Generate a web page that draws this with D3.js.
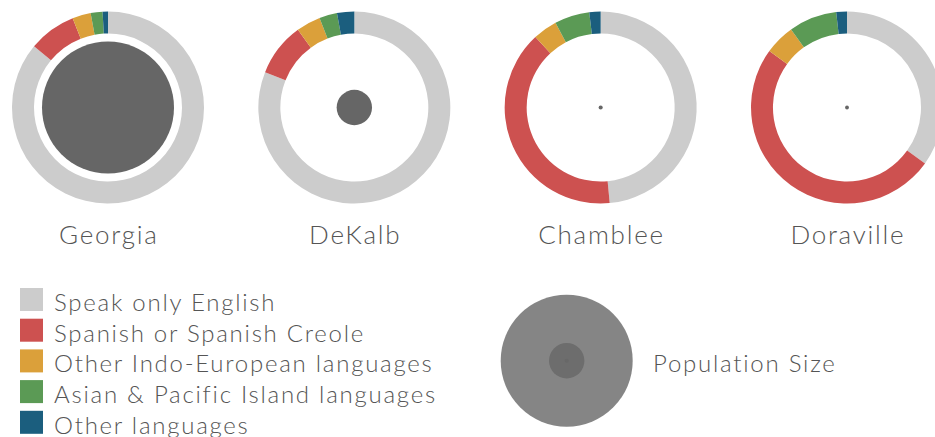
<!DOCTYPE html>
<html><head><meta charset="utf-8">
<script src="https://cdn.jsdelivr.net/npm/d3@7"></script>
<style>
html,body{margin:0;padding:0;background:#fff;}
svg{display:block;font-family:Lato, "Open Sans", sans-serif;font-weight:300;}
</style></head>
<body><svg id="c" width="935" height="437"></svg>
<script>
// Data
const places = ["Georgia", "DeKalb", "Chamblee", "Doraville"];
const languages = ["Speak only English", "Spanish or Spanish Creole", "Other Indo-European languages", "Asian & Pacific Island languages", "Other languages"];
const englishOnly = [86.0, 81.0, 48.5, 34.9];
const spanish     = [8.0, 9.0, 39.6, 50.1];
const indoEuro    = [3.1, 4.1, 4.1, 5.1];
const asianPac    = [2.0, 3.0, 5.9, 8.1];
const otherLang   = [0.9, 2.9, 1.9, 1.8];
const population  = [9330000, 670000, 9000, 8000];
const legendPopulation = [9330000, 670000, 9000];
const colors = ["#cccccc", "#cd5150", "#dba03a", "#5b9a55", "#1b5e7e"];

const svg = d3.select("#c");
const cx = d3.scalePoint().domain(places).range([108, 847]);
const cy = 107.5;
const rOuter = 96, rInner = 74;
const rScale = d3.scaleSqrt().domain([0, population[0]]).range([0, 66]);
const color = d3.scaleOrdinal().domain(languages).range(colors);

const pie = d3.pie().sort(null).value(d => d.v);
const arc = d3.arc().innerRadius(rInner).outerRadius(rOuter);

const labelLS = 1.75;
places.forEach((p, i) => {
  const vals = [englishOnly[i], spanish[i], indoEuro[i], asianPac[i], otherLang[i]]
    .map((v, k) => ({lang: languages[k], v}));
  const g = svg.append("g").attr("transform", `translate(${cx(p)},${cy})`);
  g.selectAll("path").data(pie(vals)).join("path")
    .attr("d", arc).attr("fill", d => color(d.data.lang));
  g.append("circle").attr("r", rScale(population[i])).attr("fill", "#666666");
  svg.append("text").attr("x", cx(p) + labelLS / 2).attr("y", 244)
    .attr("text-anchor", "middle").attr("fill", "#555555")
    .style("font-size", "26px").style("letter-spacing", labelLS + "px").text(p);
});

// Legend
const lg = svg.append("g");
const ly = d3.scaleBand().domain(languages).range([288, 441.5]);
languages.forEach(l => {
  lg.append("rect").attr("x", 20).attr("y", ly(l)).attr("width", 23).attr("height", 23)
    .attr("fill", color(l));
  lg.append("text").attr("x", 54).attr("y", ly(l) + 23)
    .attr("fill", "#555555").style("font-size", "24px").style("letter-spacing", "1.75px").text(l);
});

// Population legend
const pg = svg.append("g").attr("transform", "translate(566.7,360.7)");
pg.selectAll("circle").data(legendPopulation).join("circle")
  .attr("r", d => rScale(d)).attr("fill", "#666666").attr("fill-opacity", 0.8);
svg.append("text").attr("x", 653).attr("y", 371.5).attr("fill", "#555555")
  .style("font-size", "24px").style("letter-spacing", "1.75px").text("Population Size");
</script></body></html>
